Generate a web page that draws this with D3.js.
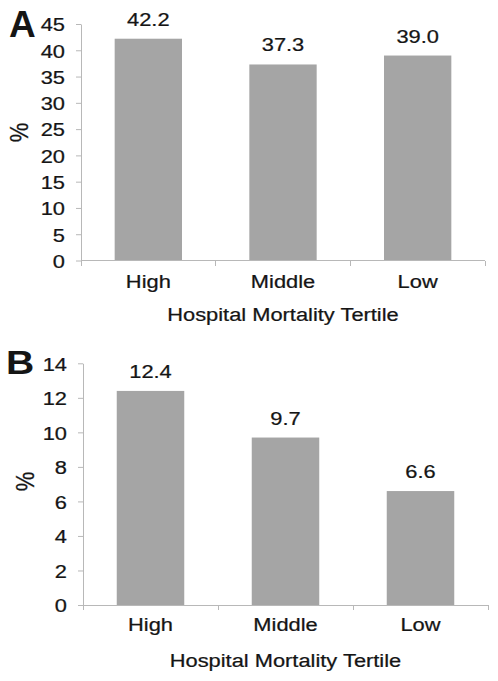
<!DOCTYPE html>
<html><head><meta charset="utf-8">
<script src="https://cdn.jsdelivr.net/npm/d3@7"></script>
<style>
body{margin:0;background:#fff}
text{font-family:"Liberation Sans",Arial,Helvetica,sans-serif;fill:#151515}
.lbl{stroke:#151515;stroke-width:0.25px}
</style>
</head><body>
<svg id="c" width="498" height="681"></svg>
<script>
const categories = ["High", "Middle", "Low"];
const valuesA = [42.2, 37.3, 39.0];
const valuesB = [12.4, 9.7, 6.6];
const ticksA = [0, 5, 10, 15, 20, 25, 30, 35, 40, 45];
const ticksB = [0, 2, 4, 6, 8, 10, 12, 14];
const xTitle = "Hospital Mortality Tertile";
const yTitle = "%";
const panelLetters = ["A", "B"];

const SX = 1.15;
const FS = 19;
const BAR = "#a5a5a5";
const AX = "#b8b8b8";
const svg = d3.select("#c");

function panel(cfg) {
  const g = svg.append("g");
  const x = d3.scaleBand().domain(categories).range([cfg.x0, cfg.x1]).paddingInner(0.5).paddingOuter(0.25);
  const y = d3.scaleLinear().domain([0, d3.max(cfg.ticks)]).range([cfg.yBot, cfg.yTop]);

  g.selectAll("rect.bar").data(cfg.values).join("rect")
    .attr("class", "bar")
    .attr("x", (d, i) => x(categories[i]))
    .attr("width", x.bandwidth())
    .attr("y", d => y(d))
    .attr("height", d => y(0) - y(d))
    .attr("fill", BAR);

  // y axis
  const ya = g.append("g").attr("transform", `translate(${cfg.x0},0)`)
    .call(d3.axisLeft(y).tickValues(cfg.ticks).tickSize(5).tickSizeOuter(0));
  ya.select(".domain").attr("stroke", AX);
  ya.selectAll(".tick line").attr("stroke", AX);
  ya.selectAll(".tick text")
    .attr("class", "lbl")
    .attr("x", null).attr("dy", "0.36em")
    .attr("transform", `translate(-16,0) scale(${SX},1)`)
    .attr("fill", "#151515")
    .style("font-size", FS + "px")
    .style("font-family", '"Liberation Sans",Arial,sans-serif');

  // x axis: baseline and boundary ticks
  g.append("line").attr("x1", cfg.x0).attr("x2", cfg.x1)
    .attr("y1", y(0)).attr("y2", y(0)).attr("stroke", AX).attr("shape-rendering", "crispEdges");
  const x0r = x.range()[0];
  g.selectAll("line.xt").data(d3.range(categories.length + 1)).join("line")
    .attr("class", "xt")
    .attr("x1", i => x0r + i * x.step()).attr("x2", i => x0r + i * x.step())
    .attr("y1", y(0)).attr("y2", y(0) + 5)
    .attr("stroke", AX).attr("shape-rendering", "crispEdges");

  // value labels
  g.selectAll("text.val").data(cfg.values).join("text")
    .attr("class", "val lbl")
    .attr("text-anchor", "middle")
    .attr("transform", (d, i) => `translate(${x(categories[i]) + x.bandwidth() / 2},${y(d) - 13}) scale(${SX},1)`)
    .style("font-size", FS + "px")
    .text(d => d3.format(".1f")(d));

  // category labels
  g.selectAll("text.cat").data(categories).join("text")
    .attr("class", "cat lbl")
    .attr("text-anchor", "middle")
    .attr("transform", d => `translate(${x(d) + x.bandwidth() / 2},${y(0) + cfg.catDy}) scale(${SX},1)`)
    .style("font-size", FS + "px")
    .text(d => d);

  // x title
  g.append("text").attr("class", "lbl").attr("text-anchor", "middle")
    .attr("transform", `translate(${(cfg.x0 + cfg.x1) / 2},${y(0) + cfg.titleDy}) scale(${SX},1)`)
    .style("font-size", FS + "px")
    .text(xTitle);

  // y title
  g.append("text").attr("class", "lbl").attr("text-anchor", "middle").attr("dominant-baseline", "central")
    .attr("transform", `translate(${cfg.pctX},${cfg.pctY}) rotate(-90) scale(1,${SX})`)
    .style("font-size", "22px")
    .text(yTitle);

  // panel letter
  g.append("text")
    .attr("transform", `translate(${cfg.lx},${cfg.ly}) scale(${cfg.lsx},1)`)
    .style("font-size", cfg.lfs + "px").style("font-weight", "bold").attr("fill", "#000")
    .text(cfg.letter);
}

panel({letter: panelLetters[0], values: valuesA, ticks: ticksA, x0: 81, x1: 485, yTop: 24, yBot: 260.5,
  catDy: 27.5, titleDy: 60, pctX: 19.5, pctY: 132.5, lx: 9, ly: 36.7, lfs: 37, lsx: 1});
panel({letter: panelLetters[1], values: valuesB, ticks: ticksB, x0: 83, x1: 488, yTop: 363.3, yBot: 605,
  catDy: 25.5, titleDy: 61.5, pctX: 25, pctY: 481.5, lx: 6, ly: 374, lfs: 34, lsx: 1.15});
</script>
</body></html>
